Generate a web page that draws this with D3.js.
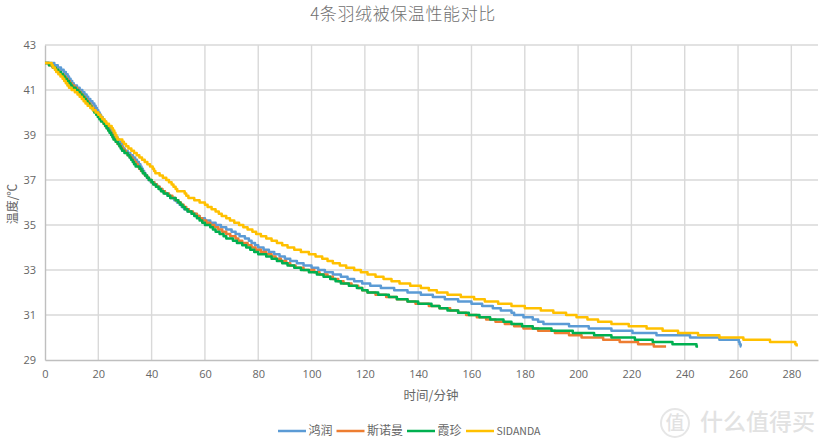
<!DOCTYPE html>
<html><head><meta charset="utf-8">
<script src="https://cdn.jsdelivr.net/npm/d3@7/dist/d3.min.js"></script>
<style>html,body{margin:0;padding:0;background:#fff}svg{display:block}</style></head>
<body><svg id="c" width="826" height="448"></svg>
<script>
const seriesNames=["鸿润","斯诺曼","霞珍","SIDANDA"];
const seriesColors=["#5b9bd5","#ed7d31","#00b050","#ffc000"];
const xTicks=[0,20,40,60,80,100,120,140,160,180,200,220,240,260,280];
const yTicks=[29,31,33,35,37,39,41,43];

const blueTemp=[42.2,42.1,42.0,41.9,41.8,41.7,41.6,41.5,41.4,41.3,41.2,41.1,41.0,40.9,40.8,40.7,40.6,40.5,40.4,40.3,40.2,40.1,40.0,39.9,39.8,39.7,39.6,39.5,39.4,39.3,39.2,39.1,39.0,38.9,38.8,38.7,38.6,38.5,38.4,38.3,38.2,38.1,38.0,37.9,37.8,37.7,37.6,37.5,37.4,37.3,37.2,37.1,37.0,36.9,36.8,36.7,36.6,36.5,36.4,36.3,36.2,36.1,36.0,35.9,35.8,35.7,35.6,35.5,35.4,35.3,35.2,35.1,35.0,34.9,34.8,34.7,34.6,34.5,34.4,34.3,34.2,34.1,34.0,33.9,33.8,33.7,33.6,33.5,33.4,33.3,33.2,33.1,33.0,32.9,32.8,32.7,32.6,32.5,32.4,32.3,32.2,32.1,32.0,31.9,31.8,31.7,31.6,31.5,31.4,31.3,31.2,31.1,31.0,30.9,30.8,30.7,30.6,30.5,30.4,30.3,30.2,30.1,30.0,29.9,29.8,29.7,29.6,29.6];
const blueTime=[0,3.5,4.8,6,7,7.8,8.5,9,9.6,10.2,10.8,12,13,14,14.8,15.6,16.2,17,17.8,18.5,19,19.5,20,20.5,21,21.6,22.2,22.8,23.3,24,24.7,25.4,26,26.6,27.2,27.8,28.4,28.9,29.3,29.9,31,32,33,33.8,34.5,35.2,35.8,36.2,36.7,37.2,37.7,38.2,38.8,39.7,41,42,43,44,45,46,47,48.5,49.5,50.5,51.3,52.2,53.5,55,56.5,58,60,62,64,66,68,70,71.5,73,75,76.5,77.5,78.8,80,82,84,86,88,90,92,94.5,97,100,102.5,105,108,111,113.5,116,119,122,126,131,136,141,145.5,150,155,160,164,168,171,175,176,179.5,183,185,187,196.6,204,212.5,220.4,229.4,242,253,260.3,260.6,261,261.2];

const orangeTemp=[42.2,42.1,42.0,41.9,41.8,41.7,41.6,41.5,41.4,41.3,41.2,41.1,41.0,40.9,40.8,40.7,40.6,40.5,40.4,40.3,40.2,40.1,40.0,39.9,39.8,39.7,39.6,39.5,39.4,39.3,39.2,39.1,39.0,38.9,38.8,38.7,38.6,38.5,38.4,38.3,38.2,38.1,38.0,37.9,37.8,37.7,37.6,37.5,37.4,37.3,37.2,37.1,37.0,36.9,36.8,36.7,36.6,36.5,36.4,36.3,36.2,36.1,36.0,35.9,35.8,35.7,35.6,35.5,35.4,35.3,35.2,35.1,35.0,34.9,34.8,34.7,34.6,34.5,34.4,34.3,34.2,34.1,34.0,33.9,33.8,33.7,33.6,33.5,33.4,33.3,33.2,33.1,33.0,32.9,32.8,32.7,32.6,32.5,32.4,32.3,32.2,32.1,32.0,31.9,31.8,31.7,31.6,31.5,31.4,31.3,31.2,31.1,31.0,30.9,30.8,30.7,30.6,30.5,30.4,30.3,30.2,30.1,30.0,29.9,29.8,29.7,29.6,29.6];
const orangeTime=[0,1.5,2.8,4,5,6,7,7.8,8.5,9.3,10,11,12,12.8,13.5,14.2,15,15.7,16.4,17,17.6,18.3,19,19.5,20.2,20.8,21.5,22,22.5,23.2,23.8,24.4,25,25.5,26,26.6,27.2,28,28.8,29.5,30.3,31,32,32.8,33.5,34.2,34.8,35.3,36,36.8,37.5,38.3,39,40,41,42,43,44,45,46.5,47.8,49,50,51,52,53,54,55.5,57,58,59,60.5,62,63.5,65,66.5,68,69.5,71.5,72.5,74,76,77.5,79,81,83,85,86.5,88.5,90.5,92,94,97,101,103,106,108,110,112,115,117.5,119,121,124,128,132,136,139,144,148,152,155,158,162,165.5,169,172.5,176,179.5,185,191.3,196.6,201.3,209.4,215.6,222.5,228.4,233];

const greenTemp=[42.2,42.1,42.0,41.9,41.8,41.7,41.6,41.5,41.4,41.3,41.2,41.1,41.0,40.9,40.8,40.7,40.6,40.5,40.4,40.3,40.2,40.1,40.0,39.9,39.8,39.7,39.6,39.5,39.4,39.3,39.2,39.1,39.0,38.9,38.8,38.7,38.6,38.5,38.4,38.3,38.2,38.1,38.0,37.9,37.8,37.7,37.6,37.5,37.4,37.3,37.2,37.1,37.0,36.9,36.8,36.7,36.6,36.5,36.4,36.3,36.2,36.1,36.0,35.9,35.8,35.7,35.6,35.5,35.4,35.3,35.2,35.1,35.0,34.9,34.8,34.7,34.6,34.5,34.4,34.3,34.2,34.1,34.0,33.9,33.8,33.7,33.6,33.5,33.4,33.3,33.2,33.1,33.0,32.9,32.8,32.7,32.6,32.5,32.4,32.3,32.2,32.1,32.0,31.9,31.8,31.7,31.6,31.5,31.4,31.3,31.2,31.1,31.0,30.9,30.8,30.7,30.6,30.5,30.4,30.3,30.2,30.1,30.0,29.9,29.8,29.7,29.6,29.6];
const greenTime=[0,1.5,3,4,5,6,6.8,7.5,8.2,9,9.6,10.2,11.5,12.5,13.2,14,14.7,15.4,16,16.7,17.3,18,18.5,19.2,19.8,20.4,21,22,22.6,23.1,23.7,24.2,24.8,25.3,25.7,26.5,27.3,27.9,28.4,28.9,29.8,31,31.7,32.3,32.9,33.4,34,35.5,36.2,36.7,37.5,38.3,39,40,40.6,41.6,42.6,43.5,44.5,46,47,49,50,50.8,51.6,52.5,53.5,55,56,57,58,59,60,62,63,64,65.5,67,68,70.5,72,74,75.5,77,78.5,80,83,85,87,89,91,93.5,96,99,102,104.5,107,109,111,114,117,119,121,125,129,132,136,140,145,148,151,155,159,163,167,172,175,179,183,190,198,206,212.5,221.3,228,235.4,244.4,245];

const yellowTemp=[42.2,42.1,42.0,41.9,41.8,41.7,41.6,41.5,41.4,41.3,41.2,41.1,41.0,40.9,40.8,40.7,40.6,40.5,40.4,40.3,40.2,40.1,40.0,39.9,39.8,39.7,39.6,39.5,39.4,39.3,39.2,39.1,39.0,38.9,38.8,38.7,38.6,38.5,38.4,38.3,38.2,38.1,38.0,37.9,37.8,37.7,37.6,37.5,37.4,37.3,37.2,37.1,37.0,36.9,36.8,36.7,36.6,36.5,36.4,36.3,36.2,36.1,36.0,35.9,35.8,35.7,35.6,35.5,35.4,35.3,35.2,35.1,35.0,34.9,34.8,34.7,34.6,34.5,34.4,34.3,34.2,34.1,34.0,33.9,33.8,33.7,33.6,33.5,33.4,33.3,33.2,33.1,33.0,32.9,32.8,32.7,32.6,32.5,32.4,32.3,32.2,32.1,32.0,31.9,31.8,31.7,31.6,31.5,31.4,31.3,31.2,31.1,31.0,30.9,30.8,30.7,30.6,30.5,30.4,30.3,30.2,30.1,30.0,29.9,29.8,29.7,29.6,29.6];
const yellowTime=[0,2.5,3,3.7,4.2,5,5.8,6.6,7.2,7.8,8.4,9,10,11.2,12.2,13,13.8,14.5,15.2,16,17,18,19,20,20.8,21.5,22.3,23,24,25,25.5,26,26.4,26.8,27.2,29,29.6,30.4,31.3,32.4,33.4,34.4,35.4,36.4,37.4,38.4,39.4,40.4,40.9,41.4,43,44.2,45.5,46.5,47.5,48.2,49,49.6,52.4,53,53.8,56,58,60,61,62.5,64,65.2,66.3,68,69.4,71,72.8,74.4,76,77.8,79.2,81,83,85,87,89,91,93.5,96,99,101.5,104,106,108,110.6,113,116,118.5,121,124,127,130,133,137,141,144,147,151,156,161,165,170,175,180,186,190.7,195.5,199.4,203.5,207.5,212.5,219,225.7,231.7,237.5,245,253,262,272,281.5,282];

const pairs=[[blueTime,blueTemp],[orangeTime,orangeTemp],[greenTime,greenTemp],[yellowTime,yellowTemp]];
const font='"Noto Sans CJK SC","Noto Sans",sans-serif';
const svg=d3.select("#c").style("font-family",font);
const x=d3.scaleLinear().domain([0,290]).range([45,818]);
const y=d3.scaleLinear().domain([29,43]).range([360,45]);
const grid="#d9d9d9", axisC="#bfbfbf", txt="#666666";

svg.append("g").selectAll("line").data(xTicks.slice(1)).join("line")
 .attr("x1",d=>x(d)).attr("x2",d=>x(d)).attr("y1",45).attr("y2",360).attr("stroke",grid).attr("stroke-width",1.4);
svg.append("g").selectAll("line").data(yTicks.slice(1)).join("line")
 .attr("x1",45).attr("x2",818).attr("y1",d=>y(d)).attr("y2",d=>y(d)).attr("stroke",grid).attr("stroke-width",1.4);

const ax=svg.append("g").attr("transform","translate(0,360)").call(d3.axisBottom(x).tickValues(xTicks).tickSize(0).tickPadding(10).tickFormat(d3.format("d")));
const ay=svg.append("g").attr("transform","translate(45,0)").call(d3.axisLeft(y).tickValues(yTicks).tickSize(0).tickPadding(9).tickFormat(d3.format("d")));
[ax,ay].forEach(a=>{a.select(".domain").attr("stroke",axisC).attr("stroke-width",1.4);
 a.selectAll("text").attr("fill",txt).style("font-size","11px").style("font-family",'"Open Sans",sans-serif');});

const line=d3.line().x(d=>x(d[0])).y(d=>y(d[1])).curve(d3.curveStepAfter);
svg.append("g").selectAll("path").data(pairs).join("path")
 .attr("d",p=>line(p[0].map((t,i)=>[t,p[1][i]])))
 .attr("fill","none").attr("stroke",(d,i)=>seriesColors[i]).attr("stroke-width",2.5).attr("stroke-linejoin","round");

svg.append("text").attr("x",403).attr("y",20).attr("text-anchor","middle").attr("fill","#707070").style("font-size","17px").style("letter-spacing","0.6px").style("font-weight","300").text("4条羽绒被保温性能对比");
svg.append("text").attr("x",431).attr("y",400).attr("text-anchor","middle").attr("fill",txt).style("font-size","12.5px").text("时间/分钟");
svg.append("text").attr("transform","translate(17,204) rotate(-90)").attr("text-anchor","middle").attr("fill",txt).style("font-size","12px").text("温度/℃");

const legendX=[278,336.5,407,466];
const lg=svg.append("g").selectAll("g").data(seriesNames).join("g").attr("transform",(d,i)=>`translate(${legendX[i]},431)`);
lg.append("line").attr("x1",0).attr("x2",28).attr("stroke",(d,i)=>seriesColors[i]).attr("stroke-width",2.5);
lg.append("text").attr("x",30.5).attr("y",4).attr("fill",txt).style("font-size",d=>d==="SIDANDA"?"10.5px":"12px").text(d=>d);

const wm=svg.append("g").attr("fill","#e2e2e2");
wm.append("circle").attr("cx",675).attr("cy",423).attr("r",14).attr("fill","none").attr("stroke","#e6e6e6").attr("stroke-width",2);
wm.append("text").attr("x",675).attr("y",430).attr("text-anchor","middle").style("font-size","19px").style("font-weight","500").text("值");
wm.append("text").attr("x",700).attr("y",430).style("font-size","23px").style("font-weight","500").text("什么值得买");
</script></body></html>
